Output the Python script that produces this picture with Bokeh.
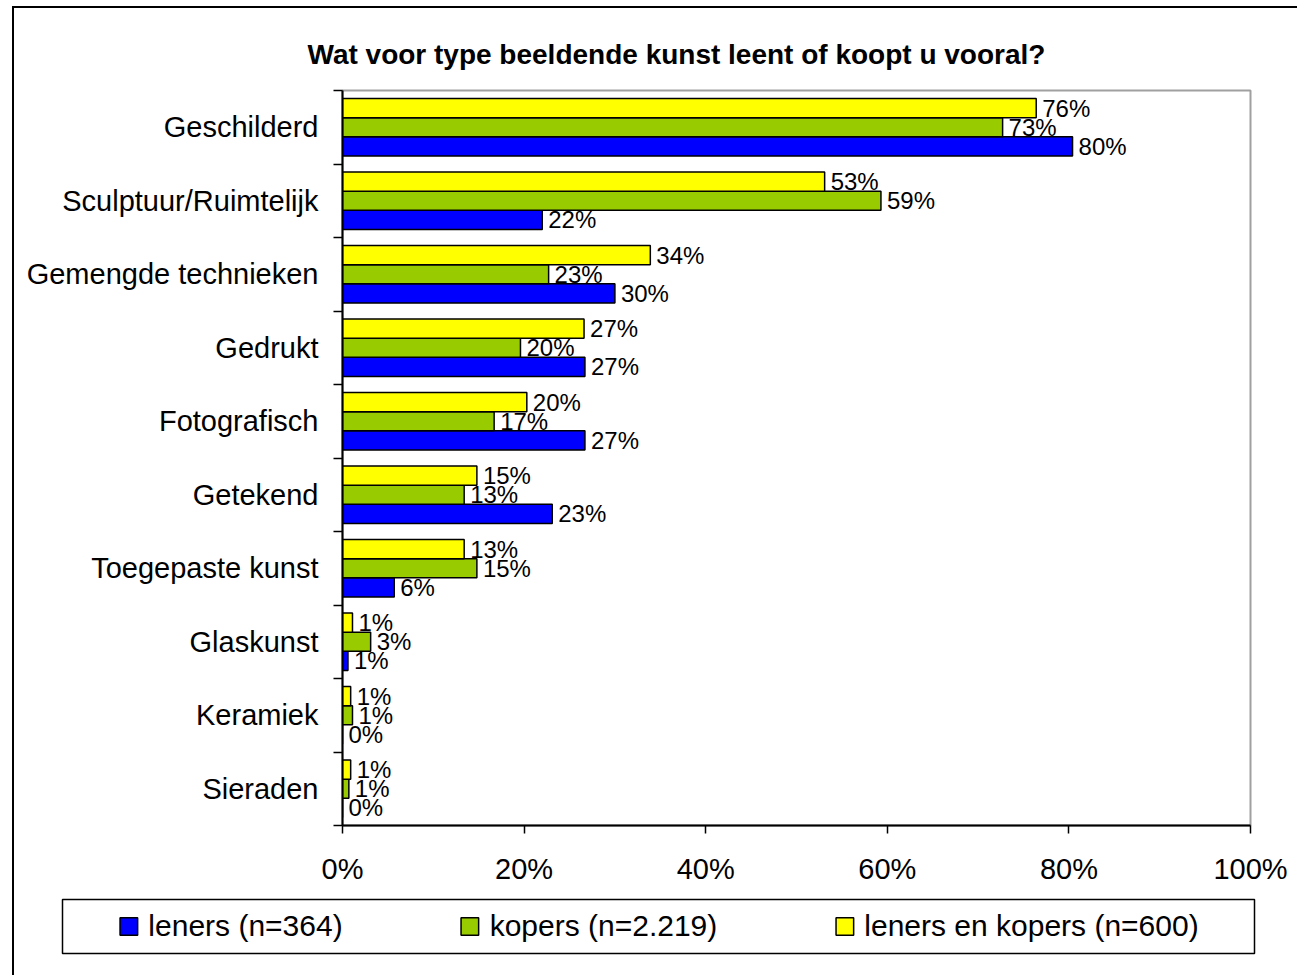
from bokeh.plotting import figure
from bokeh.models import (Range1d, FixedTicker, PrintfTickFormatter, Legend, LegendItem, Title)
from bokeh.core.properties import value
from bokeh.embed import file_html
from bokeh.resources import INLINE

# ---- data ----
categories = ["Geschilderd", "Sculptuur/Ruimtelijk", "Gemengde technieken", "Gedrukt",
              "Fotografisch", "Getekend", "Toegepaste kunst", "Glaskunst", "Keramiek", "Sieraden"]
leners = [80.4, 22.0, 30.0, 26.7, 26.7, 23.1, 5.7, 0.6, 0.0, 0.0]
kopers = [72.7, 59.3, 22.7, 19.6, 16.7, 13.4, 14.8, 3.1, 1.1, 0.7]
beide = [76.4, 53.1, 33.9, 26.6, 20.3, 14.8, 13.4, 1.1, 0.9, 0.9]
series_names = ["leners (n=364)", "kopers (n=2.219)", "leners en kopers (n=600)"]
colors = ["#0000FF", "#99CC00", "#FFFF00"]
x_ticks = [0, 20, 40, 60, 80, 100]
title_text = "Wat voor type beeldende kunst leent of koopt u vooral?"

FONT = "Liberation Sans"
n = len(categories)
centers = [n - i - 0.5 for i in range(n)]
BAR = 0.26

# ---- main chart ----
p = figure(width=1285, height=880, x_range=Range1d(0, 100), y_range=Range1d(0, n),
           output_backend="svg", toolbar_location=None,
           min_border_left=328, min_border_right=49, min_border_top=82, min_border_bottom=63)
p.margin = (6, 0, 0, 12)
p.styles = {"border-left": "2px solid black", "border-top": "2px solid black"}
p.background_fill_color = "white"
p.border_fill_color = "white"
p.outline_line_color = "#a0a0a0"
p.outline_line_width = 2
p.xgrid.visible = False
p.ygrid.visible = False

p.title = Title(text=title_text, align="left", offset=-35, text_font=FONT,
                text_font_size="28px", text_font_style="bold", text_color="black", standoff=42)

series = [(leners, colors[0], -BAR), (kopers, colors[1], 0.0), (beide, colors[2], BAR)]
for vals, col, off in series:
    ys = [c + off for c in centers]
    p.hbar(y=ys, left=0, right=vals, height=BAR, fill_color=col,
           line_color="black", line_width=1.5)
    p.text(x=vals, y=ys, text=[f"{round(v)}%" for v in vals], x_offset=6,
           text_baseline="middle", text_align="left", text_font=value(FONT),
           text_font_size="24px", text_color="black")

# x axis
p.xaxis.ticker = FixedTicker(ticks=x_ticks)
p.xaxis.formatter = PrintfTickFormatter(format="%d%%")
p.xaxis.major_tick_out = 8
p.xaxis.major_tick_in = 0
p.xaxis.major_tick_line_width = 1.5
p.xaxis.axis_line_width = 2
p.xaxis.major_label_standoff = 19
p.xaxis.major_label_text_font = FONT
p.xaxis.major_label_text_font_size = "29px"
p.xaxis.major_label_text_color = "black"

# y axis: labels at centers, ticks at boundaries
p.yaxis.ticker = FixedTicker(ticks=centers, minor_ticks=list(range(n + 1)))
p.yaxis.major_label_overrides = {c: cat for c, cat in zip(centers, categories)}
p.yaxis.major_tick_out = 0
p.yaxis.major_tick_in = 0
p.yaxis.minor_tick_out = 9
p.yaxis.minor_tick_in = 0
p.yaxis.minor_tick_line_width = 1.5
p.yaxis.axis_line_width = 2
p.yaxis.major_label_standoff = 15
p.yaxis.major_label_text_font = FONT
p.yaxis.major_label_text_font_size = "29px"
p.yaxis.major_label_text_color = "black"

# ---- legend strip (separate root so its frame is not aligned with the chart's) ----
pl = figure(width=1285, height=89, output_backend="svg", toolbar_location=None,
            x_range=Range1d(0, 100), y_range=Range1d(0, n),
            x_axis_location=None, y_axis_location=None,
            min_border_left=48, min_border_right=45, min_border_top=13, min_border_bottom=22)
pl.margin = (0, 0, 0, 12)
pl.styles = {"border-left": "2px solid black"}
pl.xgrid.visible = False
pl.ygrid.visible = False
pl.outline_line_color = "black"
pl.outline_line_width = 1.5
pl.background_fill_color = "white"
pl.border_fill_color = "white"
legend_renderers = []
for vals, col, off in series:
    r = pl.hbar(y=[c + off for c in centers], left=0, right=vals, height=BAR, fill_color=col,
                line_color="black", line_width=1.5, visible=False)
    legend_renderers.append(r)
legend = Legend(items=[LegendItem(label=s, renderers=[r]) for s, r in zip(series_names, legend_renderers)],
                orientation="horizontal", location="center",
                glyph_width=22, glyph_height=22, label_standoff=9, spacing=116, padding=8,
                label_text_font=FONT, label_text_font_size="30px", label_text_color="black",
                border_line_alpha=0, background_fill_alpha=0,
                inactive_fill_alpha=0)
pl.add_layout(legend)

open("out.html", "w").write(file_html([p, pl], INLINE))
